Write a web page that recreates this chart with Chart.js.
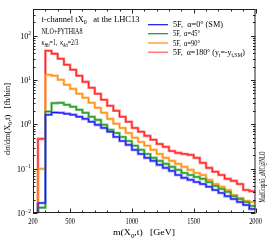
<!DOCTYPE html>
<html>
<head>
<meta charset="utf-8">
<script src="https://cdn.jsdelivr.net/npm/chart.js@4.4.1/dist/chart.umd.min.js"></script>
<style>
html, body { margin: 0; padding: 0; background: #fff; }
</style>
</head>
<body>
<canvas id="chart" width="270" height="243"></canvas>
<script>
// bin edges in GeV: one low bin 240-300, then 50 GeV bins up to 2000
const binEdges = [240, 300, 350, 400, 450, 500, 550, 600, 650, 700, 750, 800, 850, 900, 950,
    1000, 1050, 1100, 1150, 1200, 1250, 1300, 1350, 1400, 1450, 1500, 1550, 1600, 1650,
    1700, 1750, 1800, 1850, 1900, 1950, 2000];

// dsigma/dm per bin [fb/bin]
const alpha0 = [0.0168, 1.64, 1.85, 1.82, 1.73, 1.64, 1.48, 1.33, 1.14, 0.975, 0.83, 0.68,
    0.52, 0.42, 0.344, 0.265, 0.215, 0.175, 0.150, 0.122, 0.104, 0.089, 0.072, 0.062, 0.056,
    0.050, 0.045, 0.039, 0.033, 0.0283, 0.024, 0.0207, 0.0177, 0.0152, 0.0123];
const alpha45 = [0.0132, 1.95, 3.01, 3.06, 2.76, 2.49, 2.13, 1.82, 1.48, 1.26, 0.975, 0.75,
    0.64, 0.52, 0.42, 0.33, 0.265, 0.215, 0.175, 0.150, 0.128, 0.110, 0.094, 0.080, 0.072,
    0.065, 0.059, 0.050, 0.041, 0.035, 0.030, 0.024, 0.0207, 0.0177, 0.0144];
const alpha90 = [0.099, 13.1, 12.5, 10.1, 7.8, 6.3, 4.9, 3.97, 3.06, 2.36, 1.82, 1.33, 1.03,
    0.83, 0.64, 0.50, 0.40, 0.33, 0.265, 0.215, 0.175, 0.150, 0.128, 0.110, 0.094, 0.080,
    0.072, 0.056, 0.045, 0.039, 0.033, 0.0255, 0.0218, 0.0187, 0.0177];
const alpha180 = [0.47, 45.8, 39.2, 30.2, 22.1, 17.1, 12.5, 9.1, 6.68, 4.89, 3.58, 2.62, 2.02,
    1.48, 1.14, 0.83, 0.68, 0.55, 0.45, 0.36, 0.31, 0.25, 0.227, 0.215, 0.205, 0.175, 0.135,
    0.104, 0.085, 0.072, 0.059, 0.053, 0.045, 0.033, 0.031];

const seriesLabels = [
    [['5F,  α=0° (SM)', '']],
    [['5F,  α=45°', '']],
    [['5F,  α=90°', '']],
    [['5F,  α=180° (y', ''], ['t', 'sub'], ['=-y', ''], ['t,SM', 'sub'], [')', '']]
];
const legendWidths = [50, 27, 27, 72];
const darkColors = ['rgb(20,20,235)', 'rgb(30,145,30)', 'rgb(255,140,0)', 'rgb(255,25,25)'];
const lightColors = ['rgb(125,125,255)', 'rgb(115,200,115)', 'rgb(255,190,120)', 'rgb(255,125,125)'];

const xTicks = [200, 500, 1000, 1500, 2000];
const yMin = 0.01, yMax = 400;
const FONT = '"Liberation Serif", "DejaVu Serif", serif';

function histPoints(vals) {
    const pts = [{ x: binEdges[0], y: yMin }];
    vals.forEach((v, i) => pts.push({ x: binEdges[i], y: v }));
    pts.push({ x: binEdges[binEdges.length - 1], y: vals[vals.length - 1] });
    return pts;
}

// text with sub/superscripts, optionally squeezed to a target width
function rich(ctx, parts, x, y, size, opt = {}) {
    const fontFor = (st) => {
        const s = (st === 'sub' || st === 'sup' || st === 'isub') ? size * 0.7 : size;
        return (st === 'i' || st === 'isub' ? 'italic ' : '') + s.toFixed(2) + 'px ' + FONT;
    };
    let total = 0;
    parts.forEach(([t, st]) => { ctx.font = fontFor(st); total += ctx.measureText(t).width; });
    const sx = opt.width ? opt.width / total : (opt.sx || 1);
    ctx.save();
    ctx.translate(x, y);
    if (opt.rot) ctx.rotate(opt.rot);
    ctx.scale(sx, 1);
    let cx = 0;
    if (opt.align === 'right') cx = -total;
    if (opt.align === 'center') cx = -total / 2;
    ctx.fillStyle = '#000';
    ctx.textBaseline = 'alphabetic';
    ctx.textAlign = 'left';
    parts.forEach(([t, st]) => {
        ctx.font = fontFor(st);
        let dy = 0;
        if (st === 'sub' || st === 'isub') dy = size * 0.3;
        if (st === 'sup') dy = -size * 0.42;
        ctx.fillText(t, cx, dy);
        cx += ctx.measureText(t).width;
    });
    ctx.restore();
}

const decorations = {
    id: 'decorations',
    afterDraw(chart) {
        const { ctx, chartArea: a, scales: { x, y } } = chart;
        ctx.save();
        ctx.strokeStyle = '#222';
        ctx.lineWidth = 1;
        ctx.strokeRect(a.left + 0.5, a.top + 0.5, a.right - a.left - 1, a.bottom - a.top - 1);

        const seg = (x1, y1, x2, y2) => { ctx.beginPath(); ctx.moveTo(x1, y1); ctx.lineTo(x2, y2); ctx.stroke(); };

        // x ticks, inward, bottom and top
        for (let v = 200; v <= 2000; v += 100) {
            const px = Math.round(x.getPixelForValue(v)) + 0.5;
            const len = xTicks.includes(v) ? 4.5 : 2.5;
            seg(px, a.bottom, px, a.bottom - len);
            seg(px, a.top, px, a.top + len);
        }
        // y ticks, log decades, left and right
        for (let d = -2; d <= 2; d++) {
            for (let m = 1; m <= 9; m++) {
                const v = m * Math.pow(10, d);
                if (v > yMax) break;
                const py = Math.round(y.getPixelForValue(v)) + 0.5;
                const len = m === 1 ? 4.5 : 2.5;
                seg(a.left, py, a.left + len, py);
                seg(a.right, py, a.right - len, py);
            }
        }
        ctx.restore();

        // y tick labels
        ['−2', '−1', '0', '1', '2'].forEach((e, i) => {
            const py = y.getPixelForValue(Math.pow(10, i - 2));
            rich(ctx, [['10', ''], [e, 'sup']], a.left - 2, py + 3, 8, { align: 'right' });
        });
        // x tick labels
        xTicks.forEach(v => {
            rich(ctx, [[String(v), '']], x.getPixelForValue(v), 224, 7.5, { align: 'center', sx: 0.85 });
        });

        // axis titles
        rich(ctx, [['m(X', ''], ['0', 'sub'], [',t)   [GeV]', '']], 144, 235, 8.5, { align: 'center', width: 62 });
        rich(ctx, [['dσ/dm(X', ''], ['0', 'sub'], [',t)   [fb/bin]', '']], 9.5, 119, 8.5,
            { align: 'center', width: 72, rot: -Math.PI / 2 });
        rich(ctx, [['MadGraph5_aMC@NLO', '']], 265, 177, 8.5, { align: 'center', width: 51, rot: -Math.PI / 2 });

        // labels in the frame
        rich(ctx, [['t-channel tX', ''], ['0', 'sub'], ['   at the LHC13', '']], 41.5, 22, 8, { width: 98 });
        rich(ctx, [['NLO+PYTHIA8', '']], 41.5, 33.5, 7.5, { width: 41 });
        rich(ctx, [['κ', ''], ['Htt', 'isub'], ['=1,  κ', ''], ['Att', 'isub'], ['=2/3', '']], 41.5, 45, 7.5, { width: 37 });

        // legend
        const rows = [24.7, 33.7, 43, 52.3];
        rows.forEach((ry, i) => {
            ctx.save();
            if (i === 3) {
                ctx.strokeStyle = lightColors[i];
                ctx.lineWidth = 1.6;
            } else {
                ctx.strokeStyle = darkColors[i];
                ctx.lineWidth = 1.2;
            }
            seg(148, ry, 168, ry);
            ctx.restore();
            rich(ctx, seriesLabels[i], 173, ry + 2.5, 7.5, { width: legendWidths[i] });
        });
    }
};

const allSeries = [alpha0, alpha45, alpha90, alpha180];
const datasets = [];
allSeries.forEach((vals, i) => {
    datasets.push({
        data: histPoints(vals),
        borderColor: darkColors[i],
        borderWidth: 1,
        order: 0
    });
    datasets.push({
        data: histPoints(vals),
        borderColor: lightColors[i],
        borderWidth: 2.6,
        order: 1
    });
});
datasets.forEach(d => {
    d.stepped = 'before';
    d.fill = false;
    d.pointRadius = 0;
    d.tension = 0;
});

new Chart(document.getElementById('chart').getContext('2d'), {
    type: 'line',
    data: { datasets },
    options: {
        responsive: false,
        animation: false,
        layout: { padding: { top: 9, right: 14.5, left: 0, bottom: 0 } },
        plugins: { legend: { display: false }, tooltip: { enabled: false } },
        events: [],
        scales: {
            x: {
                type: 'linear',
                min: 200,
                max: 2000,
                afterFit: (s) => { s.height = 30; },
                ticks: { display: false },
                grid: { display: false },
                border: { display: false }
            },
            y: {
                type: 'logarithmic',
                min: yMin,
                max: yMax,
                afterFit: (s) => { s.width = 33; },
                ticks: { display: false },
                grid: { display: false },
                border: { display: false }
            }
        }
    },
    plugins: [decorations]
});
</script>
</body>
</html>
